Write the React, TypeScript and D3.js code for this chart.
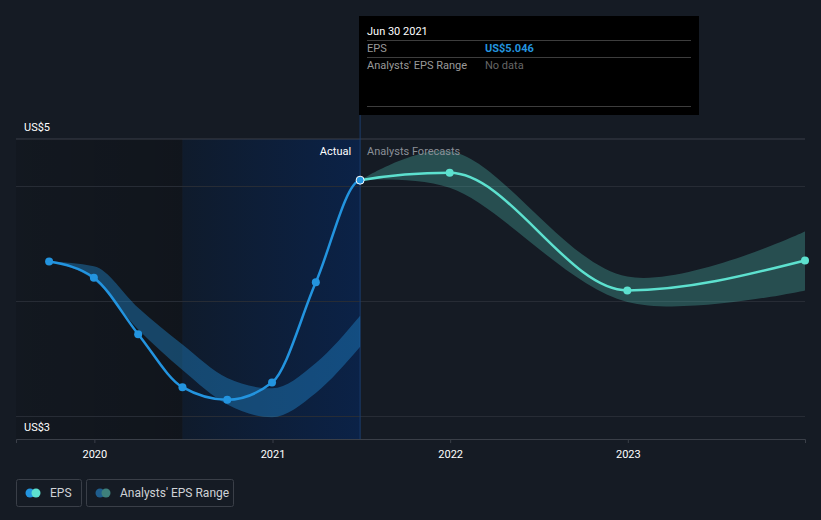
import React, { useEffect, useRef } from 'react';
import * as d3 from 'd3';

// EPS, actual (quarterly, trailing)
const actualDates = ['2019-09-30', '2019-12-31', '2020-03-31', '2020-06-30', '2020-09-30', '2020-12-31', '2021-03-31', '2021-06-30'];
const actualEps = [4.34, 4.2, 3.71, 3.25, 3.14, 3.29, 4.16, 5.046];
const pastRangeLow = [4.34, 4.18, 3.75, 3.4, 3.1, 2.99, 3.2, 3.6];
const pastRangeHigh = [4.34, 4.3, 3.94, 3.62, 3.33, 3.24, 3.46, 3.87];

// analysts' forecasts
const forecastDates = ['2021-06-30', '2021-12-31', '2022-12-31', '2023-12-31'];
const forecastEps = [5.046, 5.11, 4.09, 4.35];
const forecastLow = [5.046, 4.98, 3.99, 4.09];
const forecastHigh = [5.046, 5.3, 4.21, 4.6];

const yTicks = [3, 4, 5];
const yLabels = ['US$3', 'US$5'];
const xDomain = ['2019-07-24', '2023-12-31'];
const pastStart = '2020-06-30';
const todayDate = '2021-06-30';

const BLUE = '#2394df';
const TEAL = '#5de1cf';
const BG = '#151b24';

export default function App() {
    const ref = useRef(null);

    useEffect(() => {
        document.body.style.margin = '0';
        document.body.style.background = BG;
        const width = 821;
        const height = 520;
        const plot = { left: 16, right: 805, top: 139, bottom: 439 };
        const parse = d3.timeParse('%Y-%m-%d');

        const svg = d3.select(ref.current);
        svg.selectAll('*').remove();
        svg.attr('width', width).attr('height', height).style('font-family', 'Roboto, sans-serif');

        svg.append('rect').attr('width', width).attr('height', height).attr('fill', BG);

        const x = d3.scaleTime().domain(xDomain.map(parse)).range([plot.left, plot.right]);
        const y = d3.scaleLinear().domain([3, 5]).range([416, 185.5]);

        const xPast = x(parse(pastStart));
        const xToday = x(parse(todayDate));

        const defs = svg.append('defs');
        const gDark = defs.append('linearGradient').attr('id', 'gDark');
        gDark.append('stop').attr('offset', '0%').attr('stop-color', '#000').attr('stop-opacity', 0.12);
        gDark.append('stop').attr('offset', '100%').attr('stop-color', '#000').attr('stop-opacity', 0.22);
        const gBlue = defs.append('linearGradient').attr('id', 'gBlue');
        gBlue.append('stop').attr('offset', '0%').attr('stop-color', '#0f1b2c');
        gBlue.append('stop').attr('offset', '100%').attr('stop-color', '#0b2247');
        defs.append('clipPath').attr('id', 'clipPast')
            .append('rect').attr('x', 0).attr('y', 0).attr('width', xToday).attr('height', height);
        defs.append('clipPath').attr('id', 'clipFut')
            .append('rect').attr('x', xToday).attr('y', 0).attr('width', width - xToday).attr('height', height);

        svg.append('rect')
            .attr('x', plot.left)
            .attr('y', plot.top)
            .attr('width', xPast - plot.left)
            .attr('height', plot.bottom - plot.top)
            .attr('fill', 'url(#gDark)');
        svg.append('rect')
            .attr('x', xPast)
            .attr('y', plot.top)
            .attr('width', xToday - xPast)
            .attr('height', plot.bottom - plot.top)
            .attr('fill', 'url(#gBlue)');

        // gridlines
        svg.append('line')
            .attr('x1', plot.left).attr('x2', plot.right)
            .attr('y1', plot.top).attr('y2', plot.top)
            .attr('stroke', '#3a3f48').attr('stroke-width', 1);
        yTicks.forEach((t) => {
            svg.append('line')
                .attr('x1', plot.left).attr('x2', plot.right)
                .attr('y1', Math.round(y(t)) + 0.5).attr('y2', Math.round(y(t)) + 0.5)
                .attr('stroke', '#272c35').attr('stroke-width', 1);
        });

        // y labels
        svg.append('text').attr('x', 24).attr('y', 131).attr('fill', '#fff').attr('font-size', 11).text(yLabels[1]);
        svg.append('text').attr('x', 24).attr('y', 431).attr('fill', '#fff').attr('font-size', 11).text(yLabels[0]);

        // x axis
        const xAxis = d3.axisBottom(x).ticks(d3.timeYear.every(1)).tickSize(4).tickFormat(d3.timeFormat('%Y'));
        const gx = svg.append('g').attr('transform', `translate(0,${plot.bottom})`).call(xAxis);
        gx.select('.domain').attr('stroke', '#3a3f48');
        gx.selectAll('.tick line').attr('stroke', '#3a3f48');
        gx.selectAll('.tick text').attr('fill', '#fff').attr('font-size', 11).attr('dy', '1.05em').style('font-family', 'Roboto, sans-serif');

        // today line
        svg.append('line')
            .attr('x1', xToday).attr('x2', xToday)
            .attr('y1', 115).attr('y2', plot.bottom)
            .attr('stroke', '#1b3d6c').attr('stroke-width', 1);

        const past = actualDates.map((d, i) => ({ date: parse(d), v: actualEps[i], lo: pastRangeLow[i], hi: pastRangeHigh[i] }));
        const fut = forecastDates.map((d, i) => ({ date: parse(d), v: forecastEps[i], lo: forecastLow[i], hi: forecastHigh[i] }));
        const all = past.concat(fut.slice(1));

        const area = d3.area()
            .x((d) => x(d.date))
            .y0((d) => y(d.lo))
            .y1((d) => y(d.hi))
            .curve(d3.curveMonotoneX);
        const line = d3.line()
            .x((d) => x(d.date))
            .y((d) => y(d.v))
            .curve(d3.curveMonotoneX);

        svg.append('path').attr('d', area(past)).attr('fill', BLUE).attr('fill-opacity', 0.38);
        svg.append('path').attr('d', area.curve(d3.curveCatmullRom.alpha(0.5))(fut)).attr('fill', TEAL).attr('fill-opacity', 0.26);

        // one continuous line, split in colour at today
        svg.append('path').attr('d', line(all)).attr('fill', 'none').attr('stroke', TEAL).attr('stroke-width', 2.5)
            .attr('clip-path', 'url(#clipFut)');
        svg.append('path').attr('d', line(all)).attr('fill', 'none').attr('stroke', BLUE).attr('stroke-width', 2.5)
            .attr('clip-path', 'url(#clipPast)');

        svg.selectAll('.fpt')
            .data(fut.slice(1))
            .enter()
            .append('circle')
            .attr('class', 'fpt')
            .attr('cx', (d) => x(d.date))
            .attr('cy', (d) => y(d.v))
            .attr('r', 4)
            .attr('fill', TEAL);
        svg.selectAll('.apt')
            .data(past)
            .enter()
            .append('circle')
            .attr('class', 'apt')
            .attr('cx', (d) => x(d.date))
            .attr('cy', (d) => y(d.v))
            .attr('r', 4)
            .attr('fill', BLUE)
            .attr('stroke', (d, i) => (i === past.length - 1 ? '#fff' : 'none'))
            .attr('stroke-width', 1);

        svg.append('text').attr('x', xToday - 9).attr('y', 155).attr('text-anchor', 'end')
            .attr('fill', '#fff').attr('font-size', 11).text('Actual');
        svg.append('text').attr('x', xToday + 7).attr('y', 155)
            .attr('fill', '#8b9098').attr('font-size', 11).text('Analysts Forecasts');

        // tooltip
        const tip = svg.append('g');
        tip.append('rect').attr('x', 359).attr('y', 16).attr('width', 340).attr('height', 99).attr('fill', '#000');
        tip.append('text').attr('x', 367).attr('y', 35).attr('fill', '#fff').attr('font-size', 11).text('Jun 30 2021');
        [40.5, 57.5, 106.5].forEach((ly) => {
            tip.append('line').attr('x1', 367).attr('x2', 691).attr('y1', ly).attr('y2', ly).attr('stroke', '#3d3d3d');
        });
        tip.append('text').attr('x', 367).attr('y', 52).attr('fill', '#9a9a9a').attr('font-size', 11).text('EPS');
        tip.append('text').attr('x', 485).attr('y', 52).attr('fill', BLUE).attr('font-size', 11).attr('font-weight', 'bold').text('US$5.046');
        tip.append('text').attr('x', 367).attr('y', 69).attr('fill', '#9a9a9a').attr('font-size', 11).text("Analysts' EPS Range");
        tip.append('text').attr('x', 485).attr('y', 69).attr('fill', '#666').attr('font-size', 11).text('No data');

        // legend
        const legend = svg.append('g');
        const items = [
            { label: 'EPS', x: 16, w: 65, c1: BLUE, c2: TEAL },
            { label: "Analysts' EPS Range", x: 86, w: 147, c1: '#1f5d8d', c2: '#3e807b' },
        ];
        items.forEach((it) => {
            legend.append('rect')
                .attr('x', it.x + 0.5).attr('y', 479.5)
                .attr('width', it.w).attr('height', 27).attr('rx', 2)
                .attr('fill', 'none').attr('stroke', '#3a3f48');
            legend.append('circle').attr('cx', it.x + 14).attr('cy', 493).attr('r', 4.5).attr('fill', it.c1);
            legend.append('circle').attr('cx', it.x + 20).attr('cy', 493).attr('r', 4.5).attr('fill', it.c2);
            legend.append('text').attr('x', it.x + 34).attr('y', 497).attr('fill', '#cfd2d6').attr('font-size', 12).text(it.label);
        });
    }, []);

    return <svg ref={ref} style={{ display: 'block' }} />;
}
